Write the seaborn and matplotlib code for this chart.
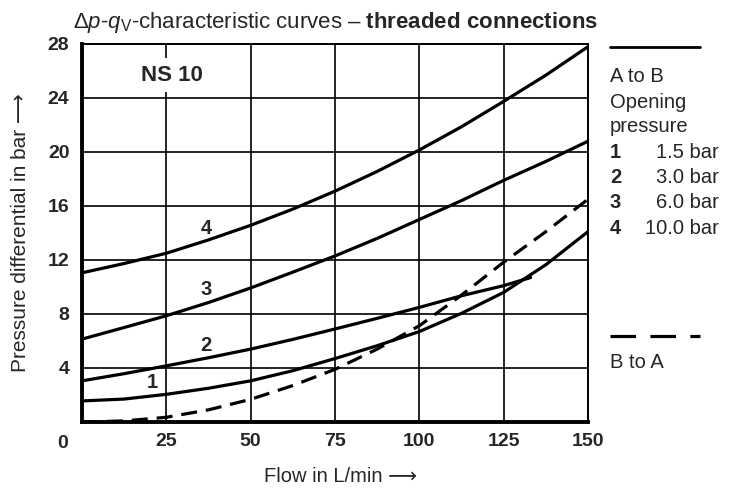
import numpy as np
import pandas as pd
import seaborn as sns
import matplotlib
matplotlib.use("Agg")
import matplotlib.pyplot as plt
from matplotlib import font_manager as fm
from matplotlib.lines import Line2D

# ---------------- data ----------------
flow = [0, 12.5, 25, 37.5, 50, 62.5, 75, 87.5, 100, 112.5, 125, 137.5, 150]
curve1 = [1.56, 1.7, 2.05, 2.5, 3.05, 3.8, 4.7, 5.65, 6.7, 8.05, 9.6, 11.65, 14.1]
curve2_flow = [0, 12.5, 25, 37.5, 50, 62.5, 75, 87.5, 100, 112.5, 125, 133]
curve2 = [3.05, 3.58, 4.16, 4.76, 5.4, 6.12, 6.89, 7.68, 8.49, 9.35, 10.1, 10.7]
curve3 = [6.14, 7.0, 7.87, 8.85, 9.93, 11.1, 12.3, 13.6, 15.0, 16.4, 17.9, 19.3, 20.8]
curve4 = [11.05, 11.74, 12.5, 13.49, 14.57, 15.77, 17.1, 18.56, 20.15, 21.87, 23.75, 25.69, 27.8]
b_to_a = [0.0, 0.08, 0.35, 0.9, 1.68, 2.7, 3.9, 5.4, 7.13, 9.4, 11.84, 14.1, 16.5]

x_ticks = [0, 25, 50, 75, 100, 125, 150]
y_ticks = [4, 8, 12, 16, 20, 24, 28]
curve_names = ["1", "2", "3", "4"]
curve_label_pos = [(20.7, 2.9), (36.8, 5.7), (36.8, 9.8), (36.8, 14.3)]
legend_nums = ["1", "2", "3", "4"]
legend_vals = ["1.5 bar", "3.0 bar", "6.0 bar", "10.0 bar"]

# ---------------- style ----------------
sns.set_theme(style="white")
names = {f.name for f in fm.fontManager.ttflist}
base = "Liberation Sans Narrow" if "Liberation Sans Narrow" in names else "Liberation Sans"
plt.rcParams["font.family"] = [base, "DejaVu Sans"]
plt.rcParams["mathtext.fontset"] = "custom"
plt.rcParams["mathtext.rm"] = base
plt.rcParams["mathtext.it"] = base + ":italic"
plt.rcParams["mathtext.bf"] = base + ":bold"

W, H = 733, 491
fx = lambda px: px / W
fy = lambda py: 1 - py / H

fig = plt.figure(figsize=(W / 100, H / 100), dpi=100)
ax = fig.add_axes([fx(82), fy(422), fx(588) - fx(82), fy(44) - fy(422)])

solid = pd.concat([
    pd.DataFrame({"flow": flow, "dp": curve1, "curve": "1"}),
    pd.DataFrame({"flow": curve2_flow, "dp": curve2, "curve": "2"}),
    pd.DataFrame({"flow": flow, "dp": curve3, "curve": "3"}),
    pd.DataFrame({"flow": flow, "dp": curve4, "curve": "4"}),
])
dashed = pd.DataFrame({"flow": flow, "dp": b_to_a})

sns.lineplot(data=solid, x="flow", y="dp", units="curve", estimator=None,
             color="black", lw=2.3, ax=ax, sort=False, zorder=3)
sns.lineplot(data=dashed, x="flow", y="dp", color="black", lw=2.3, ax=ax,
             dashes=False, zorder=3)
ax.lines[-1].set_dashes((5, 2.8))

ax.set_xlim(0, 150)
ax.set_ylim(0, 28)
ax.set_xticks(x_ticks)
ax.set_xticklabels([""] + [str(v) for v in x_ticks[1:]])
ax.set_yticks(y_ticks)
ax.set_yticklabels([str(v) for v in y_ticks])
ax.tick_params(axis="both", length=0, labelsize=14)
ax.tick_params(axis="x", pad=8)
ax.tick_params(axis="y", pad=9)
for lbl in ax.get_xticklabels() + ax.get_yticklabels():
    lbl.set_fontweight("bold")
ax.grid(True, color="black", lw=1.2)
ax.set_axisbelow(True)
ax.set_xlabel("")
ax.set_ylabel("")
for s in ["left", "bottom"]:
    ax.spines[s].set_linewidth(2.8)
for s in ["top", "right"]:
    ax.spines[s].set_linewidth(1.4)
for s in ax.spines.values():
    s.set_color("black")
    s.set_zorder(4)

for name, (xp, yp) in zip(curve_names, curve_label_pos):
    ax.text(xp, yp, name, fontsize=14.5, fontweight="bold", ha="center", va="center")
ax.text(26.7, 25.7, "NS 10", fontsize=16, fontweight="bold", ha="center", va="center",
        bbox=dict(fc="white", ec="none", pad=5), zorder=2)

# corner "0"
fig.text(fx(63), fy(443), "0", fontsize=14, fontweight="bold", ha="center", va="center")

# axis labels
fig.text(fx(341), fy(476), "Flow in L/min \u27f6", fontsize=14.5, ha="center", va="center")
fig.text(fx(21), fy(233), "Pressure differential in bar \u27f6", fontsize=15,
         ha="center", va="center", rotation=90)

# title
title = ("$\\mathit{\u0394p}$-$\\mathit{q}_\\mathrm{V}$-characteristic curves "
         "\u2013 $\\mathbf{threaded\\ connections}$")
fig.text(fx(336), fy(28), title, fontsize=16, ha="center", va="baseline")

# legend at right
fig.add_artist(Line2D([fx(610), fx(700)], [fy(47), fy(47)], color="black", lw=2.0,
                      transform=fig.transFigure))
for i, t in enumerate(["A to B", "Opening", "pressure"]):
    fig.text(fx(610), fy(77 + 25 * i), t, fontsize=14.5, ha="left", va="center")
for i, (n, v) in enumerate(zip(legend_nums, legend_vals)):
    yy = fy(152 + 25.5 * i)
    fig.text(fx(610), yy, n, fontsize=14.5, fontweight="bold", ha="left", va="center")
    fig.text(fx(719), yy, v, fontsize=14.5, ha="right", va="center")
fig.add_artist(Line2D([fx(610), fx(700)], [fy(336), fy(336)], color="black", lw=2.3,
                      dashes=(8, 4.5), transform=fig.transFigure))
fig.text(fx(610), fy(363), "B to A", fontsize=14.5, ha="left", va="center")

fig.savefig("out.png", dpi=100)
